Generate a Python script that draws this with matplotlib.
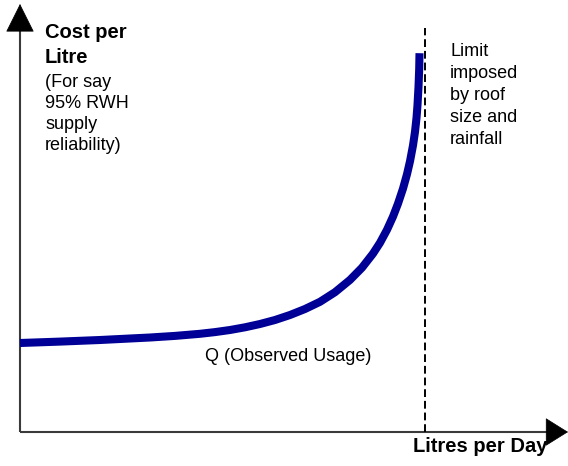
import matplotlib
matplotlib.use("Agg")
import matplotlib.pyplot as plt

plt.rcParams['font.family'] = ['Liberation Sans', 'DejaVu Sans']

# curve (x: litres per day, y: cost per litre, arbitrary units)
usage = [0, 10, 20, 32.5, 38.75, 45, 48.75, 52.5, 56.25, 60, 63.75, 67.5,
         71.25, 75, 78.75, 82.5, 85.5, 88.25, 90, 91.75, 93.25, 94.5, 95.75,
         96.75, 97.5, 98.25, 98.75, 99.125, 99.375, 99.625, 99.8, 99.875]
cost = [22.25, 22.6, 23.0, 23.625, 24.025, 24.55, 24.975, 25.5, 26.175, 27.0,
        28.0, 29.25, 30.75, 32.55, 34.95, 38.025, 41.075, 44.6, 47.3, 50.55,
        53.85, 57.1, 60.85, 64.45, 67.675, 71.65, 75.05, 78.5, 81.75, 86.25,
        90.8, 94.7]

limit_x = 101.25
limit_top = 101

y_title = "Cost per\nLitre"
y_note = "(For say\n95% RWH\nsupply\nreliability)"
x_title = "Litres per Day"
limit_note = "Limit\nimposed\nby roof\nsize and\nrainfall"
q_note = "Q (Observed Usage)"

fig = plt.figure(figsize=(5.68, 4.66), dpi=100)
ax = fig.add_axes([0, 0, 1, 1])
ax.set_xlim(-5, 137)
ax.set_ylim(-8.5, 108)
ax.axis('off')

# axes: grey lines, black arrow heads
axis_col = '#3a3a3a'
ax.plot([0, 0], [0, 102], color=axis_col, lw=1.5, solid_capstyle='butt')
ax.plot([0, 133], [0, 0], color=axis_col, lw=1.5, solid_capstyle='butt')
ax.annotate('', xy=(0, 107), xytext=(0, 101),
            arrowprops=dict(arrowstyle='-|>,head_length=1.0,head_width=0.5',
                            lw=0.5, color='black', mutation_scale=19,
                            shrinkA=0, shrinkB=0))
ax.annotate('', xy=(137, 0), xytext=(133, 0),
            arrowprops=dict(arrowstyle='-|>,head_length=0.8,head_width=0.5',
                            lw=0.5, color='black', mutation_scale=19,
                            shrinkA=0, shrinkB=0))

# limit line
ax.plot([limit_x, limit_x], [0, limit_top], color='black', lw=1.4,
        linestyle=(0, (4, 2)))

# cost curve
ax.plot(usage, cost, color='#000096', lw=5.8, solid_capstyle='butt',
        solid_joinstyle='round')

ax.text(6.25, 102.2, y_title, fontsize=14.5, fontweight='bold', va='top',
        ha='left', linespacing=1.37)
ax.text(6.25, 89.6, y_note, fontsize=13, va='top', ha='left', linespacing=1.32)
ax.text(107.5, 97.3, limit_note, fontsize=13, va='top', ha='left',
        linespacing=1.38)
ax.text(46.25, 21.0, q_note, fontsize=13, va='top', ha='left')
ax.text(98.25, -1.2, x_title, fontsize=14.5, fontweight='bold', va='top',
        ha='left')

fig.savefig('out.png', dpi=100)
